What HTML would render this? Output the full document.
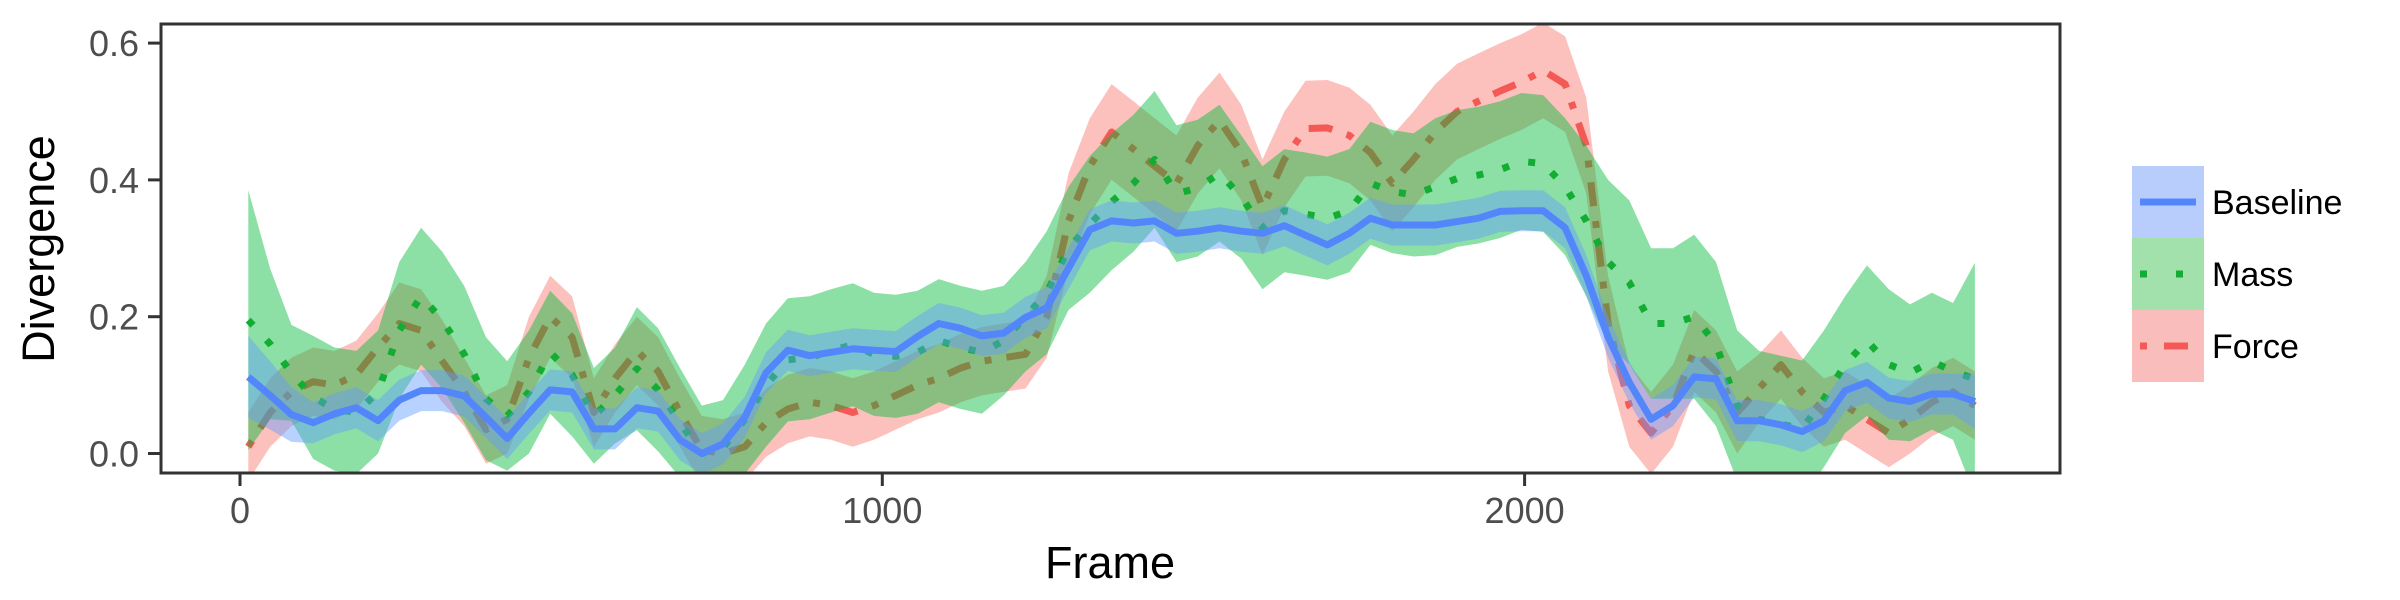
<!DOCTYPE html>
<html><head><meta charset="utf-8"><style>
html,body{margin:0;padding:0;background:#fff;}
svg{display:block;font-family:"Liberation Sans",sans-serif;}
</style></head><body>
<svg id="chart" width="2400" height="600" viewBox="0 0 2400 600" xmlns="http://www.w3.org/2000/svg">
<defs><clipPath id="pc"><rect x="161" y="24" width="1899" height="449"/></clipPath></defs>
<rect x="161" y="24" width="1899" height="449" fill="#fff"/>
<g id="plot" clip-path="url(#pc)"></g>
<rect x="161" y="24" width="1899" height="449" fill="none" stroke="#333" stroke-width="3"/>
<g id="axes"></g>
<text x="1110" y="578" font-size="45" text-anchor="middle" fill="#000">Frame</text>
<text transform="translate(54,249) rotate(-90)" font-size="45" text-anchor="middle" fill="#000">Divergence</text>
<g id="legend"></g>
</svg>
<script>
const frames=[13,47,80,114,147,181,215,248,282,315,349,383,416,450,483,517,551,584,618,651,685,719,752,786,819,853,887,920,954,987,1021,1055,1088,1122,1155,1189,1223,1256,1290,1323,1357,1391,1424,1458,1491,1525,1559,1592,1626,1659,1693,1727,1760,1794,1827,1861,1895,1928,1962,1995,2029,2063,2096,2130,2163,2197,2231,2264,2298,2331,2365,2399,2432,2466,2499,2533,2567,2600,2634,2667,2701];
const baseline=[.112,.085,.057,.045,.058,.067,.048,.078,.092,.092,.084,.053,.022,.059,.093,.09,.036,.036,.067,.062,.02,.0,.014,.053,.118,.151,.143,.148,.153,.151,.149,.171,.19,.183,.172,.176,.199,.213,.271,.327,.34,.337,.34,.322,.325,.33,.325,.322,.333,.319,.305,.322,.344,.334,.334,.334,.339,.344,.354,.355,.355,.33,.26,.17,.104,.05,.07,.112,.109,.048,.048,.042,.032,.048,.092,.104,.081,.076,.087,.087,.076];
const baselineSE=[.06,.05,.04,.03,.03,.03,.03,.03,.03,.03,.03,.03,.03,.03,.03,.03,.03,.03,.03,.03,.03,.03,.03,.03,.03,.03,.03,.03,.03,.03,.03,.03,.03,.03,.03,.03,.03,.03,.03,.03,.03,.03,.03,.03,.03,.03,.03,.03,.03,.03,.03,.03,.03,.03,.03,.03,.03,.03,.03,.03,.03,.03,.03,.03,.03,.03,.03,.03,.03,.03,.03,.03,.03,.03,.03,.03,.03,.03,.03,.03,.04];
const mass=[.195,.16,.118,.082,.065,.06,.09,.18,.23,.195,.145,.08,.055,.09,.148,.115,.055,.085,.124,.093,.045,.0,.008,.05,.1,.137,.14,.15,.159,.145,.142,.148,.165,.155,.148,.165,.2,.235,.3,.335,.368,.395,.43,.38,.388,.41,.375,.33,.355,.35,.344,.355,.395,.383,.378,.39,.402,.407,.415,.427,.424,.39,.34,.28,.25,.19,.19,.2,.16,.07,.05,.043,.036,.08,.13,.165,.13,.118,.135,.12,.109];
const massSE=[.19,.11,.07,.09,.09,.09,.09,.1,.1,.1,.1,.09,.08,.09,.09,.09,.07,.07,.09,.09,.08,.07,.07,.08,.09,.09,.09,.09,.09,.09,.09,.09,.09,.09,.09,.08,.08,.09,.09,.1,.1,.1,.1,.1,.1,.1,.09,.09,.09,.09,.09,.09,.09,.09,.09,.1,.1,.1,.1,.1,.1,.1,.11,.12,.12,.11,.11,.12,.12,.11,.1,.1,.1,.1,.1,.11,.11,.1,.1,.1,.17];
const force=[.01,.06,.09,.105,.1,.115,.155,.19,.18,.135,.09,.035,.05,.14,.2,.17,.06,.11,.15,.12,.06,.005,.0,.01,.045,.065,.075,.07,.06,.07,.085,.1,.11,.125,.135,.14,.145,.2,.34,.42,.47,.445,.42,.395,.45,.487,.44,.36,.43,.475,.476,.465,.44,.395,.43,.47,.5,.515,.53,.543,.56,.54,.45,.19,.07,.03,.07,.15,.12,.06,.095,.13,.09,.06,.07,.05,.03,.05,.075,.09,.07];
const forceSE=[.05,.05,.05,.05,.05,.05,.05,.06,.06,.06,.05,.05,.05,.06,.06,.06,.05,.05,.05,.05,.05,.05,.05,.05,.05,.05,.05,.05,.05,.05,.05,.05,.05,.05,.05,.05,.05,.06,.07,.07,.07,.07,.07,.07,.07,.07,.07,.07,.07,.07,.07,.07,.07,.07,.07,.07,.07,.07,.07,.07,.07,.07,.07,.07,.06,.06,.06,.06,.06,.06,.05,.05,.05,.05,.05,.05,.05,.05,.05,.05,.05];
const xTicks=[0,1000,2000];
const yTicks=[0.0,0.2,0.4,0.6];
const yTickLabels=["0.0","0.2","0.4","0.6"];
const legendLabels=["Baseline","Mass","Force"];

const NS="http://www.w3.org/2000/svg";
const xs=f=>240+f*0.6423;
const ys=v=>453.5-v*684;
function mk(tag,attrs,parent){const e=document.createElementNS(NS,tag);for(const k in attrs)e.setAttribute(k,attrs[k]);parent.appendChild(e);return e;}
const plot=document.getElementById('plot');
function ribbon(mean,se,color,name){
  let d='';
  for(let i=0;i<frames.length;i++)d+=(i?'L':'M')+xs(frames[i]).toFixed(1)+','+ys(mean[i]+se[i]).toFixed(1);
  for(let i=frames.length-1;i>=0;i--)d+='L'+xs(frames[i]).toFixed(1)+','+ys(mean[i]-se[i]).toFixed(1);
  const p=mk('path',{d:d+'Z',fill:color,'fill-opacity':0.45},plot);
  
  
}
function line(mean,color,dash,name){
  let d='';
  for(let i=0;i<frames.length;i++)d+=(i?'L':'M')+xs(frames[i]).toFixed(1)+','+ys(mean[i]).toFixed(1);
  const p=mk('path',{d:d,fill:'none',stroke:color,'stroke-width':7,'stroke-linejoin':'round'},plot);
  if(dash)p.setAttribute('stroke-dasharray',dash);
  
  
}
ribbon(force,forceSE,'#F8766D','force-ribbon');
line(force,'#f35a55','7 15 24 15','force-line');
ribbon(mass,massSE,'#00BA38','mass-ribbon');
line(mass,'#12ad32','7 20','mass-line');
ribbon(baseline,baselineSE,'#619CFF','baseline-ribbon');
line(baseline,'#5386fb',null,'baseline-line');

const axes=document.getElementById('axes');
xTicks.forEach(t=>{
  const tk=mk('line',{x1:xs(t),x2:xs(t),y1:473,y2:486,stroke:'#333','stroke-width':3},axes);
  
  
  const lb=mk('text',{x:xs(t),y:523,'font-size':36,'text-anchor':'middle',fill:'#4d4d4d'},axes);
  lb.textContent=String(t);
  
  
});
yTicks.forEach((t,i)=>{
  const tk=mk('line',{x1:148,x2:161,y1:ys(t),y2:ys(t),stroke:'#333','stroke-width':3},axes);
  
  
  const lb=mk('text',{x:139,y:ys(t)+13,'font-size':36,'text-anchor':'end',fill:'#4d4d4d'},axes);
  lb.textContent=yTickLabels[i];
  
  
});

const leg=document.getElementById('legend');
const fills=['#b9cdfd','#a2e1ab','#f9bebb'];
const lcol=['#5386fb','#12ad32','#f35a55'];
const ldash=[null,'7 29','7 17 24 17'];
legendLabels.forEach((lab,i)=>{
  const y0=166+i*72;
  const g=mk('g',{},leg);
  
  
  mk('rect',{x:2132,y:y0,width:72,height:72,fill:fills[i]},g);
  const l=mk('line',{x1:2140,x2:2196,y1:y0+36,y2:y0+36,stroke:lcol[i],'stroke-width':7},g);
  if(ldash[i])l.setAttribute('stroke-dasharray',ldash[i]);
  const t=mk('text',{x:2212,y:y0+48,'font-size':34,fill:'#000'},g);
  t.textContent=lab;
});
</script>
</body></html>
